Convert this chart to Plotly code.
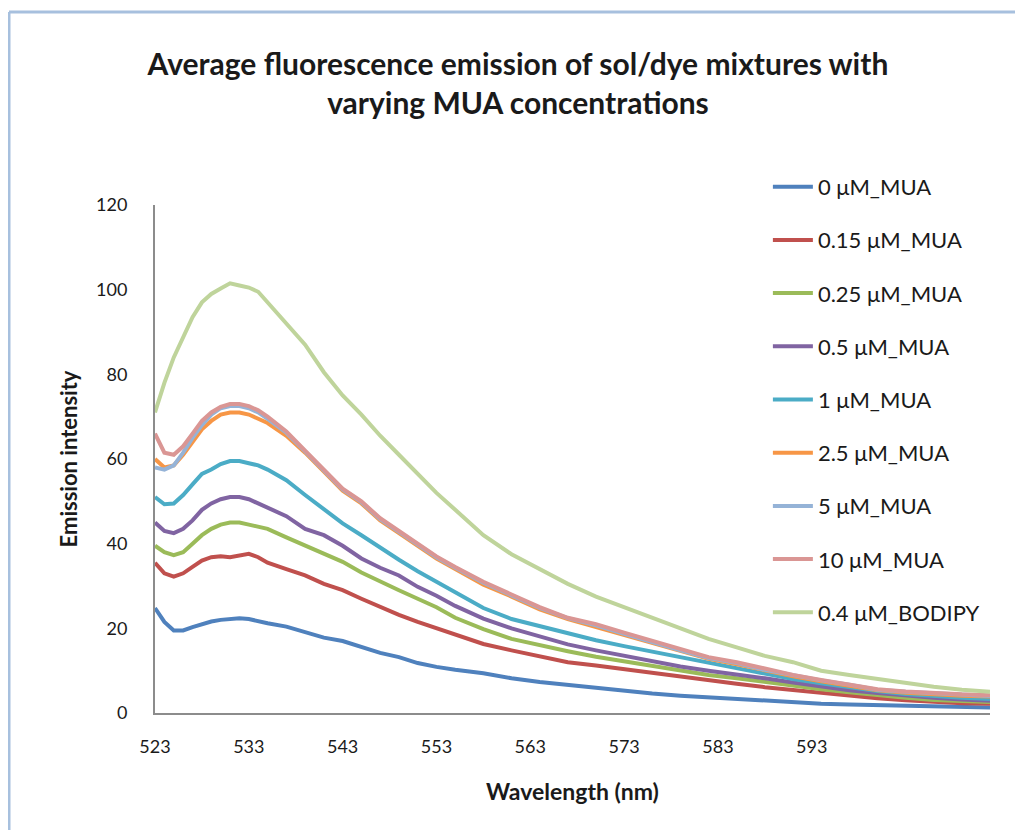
import plotly.graph_objects as go

wavelength = [523, 524, 525, 526, 527, 528, 529, 530, 531, 532, 533, 534, 535, 537, 539, 541,
              543, 545, 547, 549, 551, 553, 555, 558, 561, 564, 567, 570, 573, 576, 579, 582,
              585, 588, 591, 594, 597, 600, 603, 606, 609, 612]

mua_0 = [24.8, 21.5, 19.5, 19.5, 20.3, 21.0, 21.6, 22.0, 22.3, 22.4, 22.2, 21.6, 21.2, 20.4, 19.2, 17.8,
         17.0, 15.6, 14.2, 13.2, 11.8, 10.9, 10.2, 9.4, 8.2, 7.3, 6.6, 6.0, 5.3, 4.6, 4.1, 3.7,
         3.4, 2.9, 2.5, 2.2, 2.0, 1.9, 1.6, 1.5, 1.4, 1.3]
mua_015 = [35.5, 33.0, 32.2, 33.0, 34.5, 36.0, 36.8, 37.0, 36.8, 37.2, 37.6, 36.8, 35.5, 34.0, 32.5, 30.5,
           29.0, 27.0, 25.0, 23.2, 21.5, 20.0, 18.5, 16.3, 14.8, 13.3, 12.0, 11.2, 10.3, 9.4, 8.5, 7.7,
           6.9, 6.1, 5.4, 4.7, 4.0, 3.5, 3.0, 2.6, 2.3, 2.2]
mua_025 = [39.5, 38.0, 37.3, 38.0, 40.0, 42.0, 43.5, 44.5, 45.0, 45.0, 44.5, 44.0, 43.5, 41.5, 39.5, 37.5,
           35.7, 33.2, 31.0, 29.0, 27.0, 25.0, 22.5, 19.8, 17.5, 16.0, 14.6, 13.3, 12.2, 11.0, 10.0, 9.0,
           8.2, 7.3, 6.4, 5.6, 4.9, 4.2, 3.6, 3.1, 2.8, 2.6]
mua_05 = [45.0, 43.0, 42.5, 43.5, 45.5, 48.0, 49.5, 50.5, 51.0, 51.0, 50.5, 49.5, 48.5, 46.5, 43.5, 42.0,
          39.5, 36.5, 34.3, 32.5, 29.8, 27.7, 25.3, 22.3, 20.0, 18.0, 16.2, 14.8, 13.5, 12.2, 11.0, 10.0,
          9.2, 8.2, 7.2, 6.2, 5.4, 4.7, 4.1, 3.6, 3.2, 2.9]
mua_1 = [51.0, 49.3, 49.5, 51.5, 54.0, 56.5, 57.5, 58.8, 59.5, 59.5, 59.0, 58.5, 57.5, 55.0, 51.5, 48.0,
         44.8, 42.0, 39.0, 36.2, 33.5, 31.0, 28.5, 24.8, 22.2, 20.5, 18.8, 17.2, 15.8, 14.5, 13.0, 11.8,
         10.5, 9.2, 8.0, 7.0, 6.0, 5.2, 4.5, 4.0, 3.6, 3.3]
mua_25 = [60.0, 58.0, 58.5, 61.0, 64.0, 67.0, 69.0, 70.5, 71.0, 71.0, 70.5, 69.5, 68.5, 65.5, 61.5, 57.0,
          52.5, 49.5, 45.5, 42.5, 39.5, 36.5, 34.0, 30.3, 27.5, 24.5, 22.2, 20.3, 18.4, 16.4, 14.5, 12.8,
          11.5, 10.0, 8.7, 7.5, 6.5, 5.4, 4.8, 4.4, 4.1, 3.9]
mua_5 = [58.0, 57.5, 58.5, 61.5, 65.0, 68.0, 70.5, 72.0, 72.5, 72.5, 72.0, 71.0, 69.5, 66.2, 61.8, 57.3,
         52.8, 49.8, 45.8, 42.8, 39.8, 36.8, 34.3, 30.8, 27.8, 24.8, 22.4, 20.7, 18.7, 16.7, 14.8, 13.0,
         11.8, 10.2, 8.9, 7.7, 6.7, 5.5, 5.0, 4.6, 4.3, 4.0]
mua_10 = [66.0, 61.5, 61.0, 63.0, 66.0, 69.0, 71.0, 72.3, 73.0, 73.0, 72.5, 71.5, 70.0, 66.5, 62.0, 57.5,
          53.0, 50.0, 46.0, 43.0, 40.0, 37.0, 34.5, 31.0, 28.0, 25.0, 22.5, 21.0, 19.0, 17.0, 15.0, 13.2,
          12.0, 10.4, 9.0, 7.8, 6.8, 5.6, 5.1, 4.7, 4.4, 4.2]
bodipy_04 = [71.0, 78.0, 84.0, 89.0, 93.5, 97.0, 99.0, 100.3, 101.5, 101.0, 100.5, 99.5, 97.0, 92.0, 87.0, 80.5,
             75.0, 70.5, 65.5, 61.0, 56.5, 52.0, 48.0, 42.0, 37.5, 34.0, 30.5, 27.5, 25.0, 22.5, 20.0, 17.5,
             15.5, 13.5, 12.0, 10.0, 9.0, 8.0, 7.0, 6.2, 5.5, 5.0]

series_names = ["0 μM_MUA", "0.15 μM_MUA", "0.25 μM_MUA", "0.5 μM_MUA", "1 μM_MUA",
                "2.5 μM_MUA", "5 μM_MUA", "10 μM_MUA", "0.4 μM_BODIPY"]
series_values = [mua_0, mua_015, mua_025, mua_05, mua_1, mua_25, mua_5, mua_10, bodipy_04]
series_colors = ["#4F81BD", "#C0504D", "#9BBB59", "#8064A2", "#4BACC6",
                 "#F79646", "#95B3D7", "#DA9694", "#BFD49B"]

x_ticks = [523, 533, 543, 553, 563, 573, 583, 593]
y_ticks = [0, 20, 40, 60, 80, 100, 120]

FONT = "Lato, 'Open Sans', sans-serif"
TXT = "#1a1a1a"

fig = go.Figure()
for i, (name, vals, col) in enumerate(zip(series_names, series_values, series_colors)):
    fig.add_trace(go.Scatter(
        x=wavelength, y=vals, name=name, mode="lines",
        line=dict(color=col, width=4),
        legendgroup="g%d" % i,
    ))

fig.update_layout(
    width=1023, height=830,
    margin=dict(l=147, r=41, t=197, b=125),
    paper_bgcolor="white", plot_bgcolor="white",
    font=dict(family=FONT, size=18, color=TXT),
    title=dict(
        text="<b>Average fluorescence emission of sol/dye mixtures with<br>varying MUA concentrations</b>",
        x=0.4985, xanchor="center", y=1 - 66.5 / 830, yanchor="middle", yref="container",
        font=dict(family=FONT, size=30, color=TXT),
    ),
    legend=dict(
        x=0.734, xanchor="left", y=1.077, yanchor="top",
        bgcolor="rgba(0,0,0,0)", font=dict(family=FONT, size=22, color=TXT),
        tracegroupgap=21.6, itemwidth=40, maxheight=700,
    ),
    showlegend=True,
)

fig.update_xaxes(
    range=[523, 612], tickvals=x_ticks, ticktext=[str(t) for t in x_ticks],
    showgrid=False, zeroline=False, showline=True, linecolor="#8c8c8c", linewidth=2,
    ticks="", ticklabelstandoff=16,
    title=dict(text="<b>Wavelength (nm)</b>", font=dict(family=FONT, size=23, color=TXT), standoff=28),
    tickfont=dict(family=FONT, size=18, color=TXT),
)
fig.update_yaxes(
    range=[0, 120], tickvals=y_ticks,
    showgrid=False, zeroline=False, showline=True, linecolor="#8c8c8c", linewidth=2,
    ticks="", ticklabelstandoff=22,
    title=dict(text="<b>Emission intensity</b>", font=dict(family=FONT, size=22, color=TXT), standoff=12),
    tickfont=dict(family=FONT, size=18, color=TXT),
)

# outer chart-area frame (light blue)
fx = (1 - 147) / 835
fy = (705 - 4) / 508
fig.add_shape(type="line", xref="paper", yref="paper",
              x0=fx, x1=fx, y0=-0.3, y1=fy,
              line=dict(color="#A7C0DE", width=3))
fig.add_shape(type="line", xref="paper", yref="paper",
              x0=fx, x1=1.1, y0=fy, y1=fy,
              line=dict(color="#A7C0DE", width=3))

fig.write_html("out.html")
